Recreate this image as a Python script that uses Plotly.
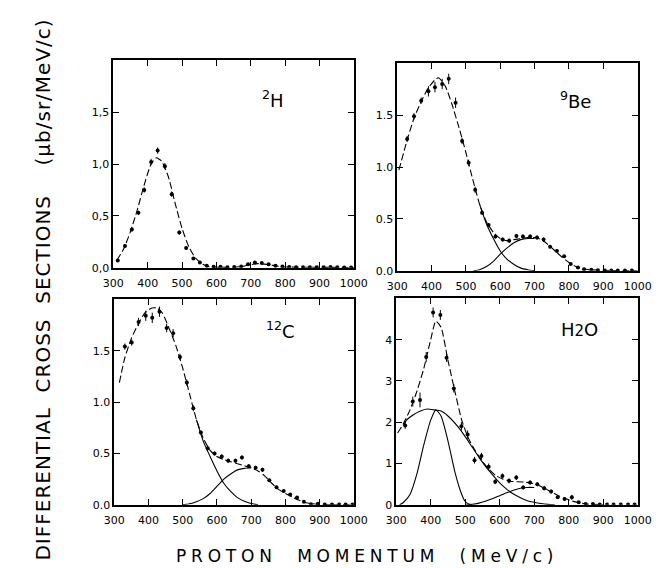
import plotly.graph_objects as go

# ---------------- data: 2H ----------------
h2_p = [313, 334, 354, 373, 390, 410, 429, 450, 470, 492, 512, 533, 552, 572, 592, 612, 632, 652, 672,
        692, 712, 732, 752, 772, 792, 812, 832, 852, 872, 892, 912, 932, 952, 972, 992]
h2_v = [0.07, 0.21, 0.37, 0.53, 0.75, 1.02, 1.13, 0.98, 0.71, 0.34, 0.19, 0.09, 0.05, 0.02, 0.01, 0.01,
        0.005, 0.008, 0.012, 0.035, 0.05, 0.045, 0.035, 0.02, 0.012, 0.008, 0.006, 0.005, 0.004, 0.005,
        0.004, 0.008, 0.004, 0.003, 0.003]
h2_e = [0.01, 0.015, 0.02, 0.02, 0.025, 0.03, 0.03, 0.03, 0.025, 0.02, 0.015, 0.01, 0.01, 0.008, 0.005,
        0.005, 0.005, 0.005, 0.005, 0.008, 0.008, 0.008, 0.008, 0.005, 0.005, 0.005, 0.005, 0.005, 0.005,
        0.005, 0.005, 0.005, 0.005, 0.005, 0.005]
h2_fit_p = [310, 330, 350, 370, 390, 410, 425, 440, 460, 480, 500, 520, 540, 560, 580, 600, 650, 680,
            700, 720, 740, 760, 780, 800, 850, 1000]
h2_fit_v = [0.07, 0.18, 0.35, 0.56, 0.80, 1.00, 1.06, 1.03, 0.88, 0.62, 0.38, 0.20, 0.09, 0.035, 0.01,
            0.005, 0.005, 0.015, 0.03, 0.04, 0.035, 0.025, 0.015, 0.008, 0.005, 0.003]

# ---------------- data: 9Be ----------------
be_p = [329, 349, 370, 391, 410, 431, 450, 470, 489, 508, 527, 547, 566, 586, 607, 626, 647, 666, 687,
        707, 726, 745, 765, 786, 805, 826, 844, 865, 884, 904, 923, 942, 963, 983]
be_v = [1.27, 1.49, 1.64, 1.73, 1.77, 1.80, 1.85, 1.62, 1.25, 1.04, 0.78, 0.56, 0.44, 0.33, 0.30, 0.29,
        0.335, 0.33, 0.33, 0.32, 0.30, 0.23, 0.19, 0.14, 0.065, 0.03, 0.015, 0.01, 0.005, 0.003, 0.002,
        0.002, 0.002, 0.002]
be_e = [0.03, 0.03, 0.03, 0.05, 0.05, 0.05, 0.05, 0.05, 0.03, 0.03, 0.03, 0.02, 0.02, 0.02, 0.02, 0.02,
        0.02, 0.02, 0.02, 0.02, 0.02, 0.015, 0.015, 0.01, 0.01, 0.01, 0.005, 0.005, 0.005, 0.005, 0.005,
        0.005, 0.005, 0.005]
be_fit_p = [305, 330, 350, 370, 390, 410, 420, 440, 460, 480, 500, 520, 540, 560, 580, 600, 620, 640,
            660, 680, 700, 720, 740, 760, 780, 800, 820, 840, 860, 900, 1000]
be_fit_v = [0.97, 1.27, 1.48, 1.63, 1.76, 1.84, 1.86, 1.78, 1.60, 1.38, 1.14, 0.88, 0.64, 0.47, 0.37,
            0.31, 0.29, 0.30, 0.31, 0.32, 0.32, 0.30, 0.25, 0.19, 0.13, 0.08, 0.04, 0.02, 0.01, 0.003, 0.0]
be_c1_p = [540, 560, 580, 600, 620, 640, 660, 680, 700]
be_c1_v = [0.64, 0.45, 0.31, 0.19, 0.11, 0.06, 0.025, 0.01, 0.0]
be_c2_p = [522, 540, 560, 580, 600, 620, 640, 660, 680, 700]
be_c2_v = [0.0, 0.01, 0.04, 0.09, 0.16, 0.22, 0.27, 0.30, 0.31, 0.31]

# ---------------- data: 12C ----------------
c_p = [331, 351, 371, 392, 411, 432, 453, 472, 492, 512, 531, 553, 573, 593, 614, 633, 654, 673, 693,
       713, 733, 753, 774, 795, 814, 834, 854, 875, 895, 915, 936, 957, 976, 996]
c_v = [1.54, 1.58, 1.78, 1.84, 1.82, 1.88, 1.72, 1.67, 1.44, 1.19, 0.94, 0.705, 0.55, 0.50, 0.47, 0.43,
       0.43, 0.46, 0.375, 0.36, 0.34, 0.24, 0.17, 0.135, 0.10, 0.07, 0.03, 0.005, 0.01, 0.002, 0.002,
       0.002, 0.002, 0.002]
c_e = [0.03, 0.03, 0.04, 0.05, 0.05, 0.05, 0.04, 0.04, 0.03, 0.03, 0.03, 0.02, 0.02, 0.02, 0.02, 0.02,
       0.02, 0.02, 0.02, 0.02, 0.02, 0.015, 0.015, 0.01, 0.01, 0.01, 0.01, 0.005, 0.01, 0.005, 0.005,
       0.005, 0.005, 0.005]
c_fit_p = [315, 330, 350, 370, 390, 410, 425, 440, 460, 480, 500, 520, 540, 560, 580, 600, 620, 640, 660,
           680, 700, 720, 740, 760, 780, 800, 820, 840, 860, 880, 900, 1000]
c_fit_v = [1.19, 1.42, 1.62, 1.76, 1.87, 1.915, 1.915, 1.87, 1.72, 1.55, 1.33, 1.08, 0.83, 0.65, 0.53,
           0.47, 0.44, 0.42, 0.40, 0.38, 0.36, 0.33, 0.28, 0.21, 0.15, 0.11, 0.075, 0.045, 0.02, 0.01,
           0.003, 0.0]
c_c1_p = [540, 560, 580, 600, 620, 640, 660, 680, 700, 720]
c_c1_v = [0.83, 0.62, 0.47, 0.33, 0.21, 0.13, 0.07, 0.035, 0.012, 0.0]
c_c2_p = [498, 520, 540, 560, 580, 600, 620, 640, 660, 680, 700]
c_c2_v = [0.0, 0.01, 0.03, 0.06, 0.11, 0.18, 0.25, 0.30, 0.34, 0.355, 0.36]

# ---------------- data: H2O ----------------
w_p = [326, 348, 369, 387, 407, 428, 446, 467, 489, 507, 527, 547, 568, 587, 608, 627, 648, 668, 688,
       709, 729, 749, 768, 788, 809, 829, 849, 870, 890, 911, 930, 951, 972, 991]
w_v = [1.92, 2.50, 2.54, 3.58, 4.66, 4.60, 3.56, 2.82, 1.90, 1.70, 1.08, 1.18, 0.92, 0.56, 0.70, 0.58,
       0.66, 0.42, 0.54, 0.50, 0.40, 0.32, 0.18, 0.14, 0.18, 0.06, 0.02, 0.02, 0.01, 0.01, 0.01, 0.01,
       0.01, 0.01]
w_e = [0.08, 0.12, 0.18, 0.12, 0.12, 0.12, 0.1, 0.1, 0.1, 0.1, 0.08, 0.08, 0.08, 0.06, 0.06, 0.06,
       0.06, 0.05, 0.05, 0.05, 0.05, 0.05, 0.04, 0.04, 0.06, 0.03, 0.02, 0.02, 0.02, 0.02, 0.02, 0.02,
       0.02, 0.02]
w_fit_p = [304, 320, 340, 360, 380, 400, 415, 430, 450, 470, 490, 510, 530, 550, 570, 590, 610, 630, 650,
           670, 690, 710, 730, 750, 770, 790, 810, 830, 850, 870, 900]
w_fit_v = [1.74, 1.95, 2.30, 2.75, 3.30, 4.00, 4.45, 4.30, 3.50, 2.75, 2.05, 1.60, 1.30, 1.05, 0.85, 0.70,
           0.62, 0.57, 0.56, 0.55, 0.53, 0.48, 0.40, 0.31, 0.22, 0.15, 0.09, 0.05, 0.02, 0.01, 0.0]
w_broad_p = [322, 330, 350, 370, 390, 410, 430, 450, 480, 500, 520, 540, 560, 580, 600, 620, 640, 660,
             680, 700, 720, 740, 760]
w_broad_v = [1.94, 2.05, 2.18, 2.27, 2.32, 2.30, 2.27, 2.15, 1.88, 1.65, 1.40, 1.15, 0.92, 0.72, 0.53,
             0.38, 0.26, 0.17, 0.10, 0.06, 0.03, 0.01, 0.0]
w_narrow_p = [310, 320, 340, 360, 380, 400, 415, 430, 450, 470, 490, 500, 510, 520]
w_narrow_v = [0.0, 0.05, 0.25, 0.75, 1.45, 2.05, 2.30, 2.15, 1.55, 0.80, 0.25, 0.08, 0.02, 0.0]
w_c3_p = [503, 520, 540, 560, 580, 600, 620, 640, 660, 680, 700]
w_c3_v = [0.0, 0.01, 0.04, 0.09, 0.15, 0.22, 0.29, 0.35, 0.40, 0.42, 0.42]

x_ticks = [300, 400, 500, 600, 700, 800, 900, 1000]
y_ticks_a = [0, 0.5, 1.0, 1.5]
y_ticks_a_text_comma = ["0,0", "0,5", "1,0", "1,5"]
y_ticks_a_text = ["0.0", "0.5", "1.0", "1.5"]
y_ticks_w = [0, 1, 2, 3, 4]

W, H = 662, 568
fig = go.Figure()

DASH = "7px,3px"


def pts(p, v, e, ax):
    fig.add_trace(go.Scatter(
        x=p, y=v, mode="markers", xaxis="x" + ax, yaxis="y" + ax,
        marker=dict(color="black", size=4),
        error_y=dict(type="data", array=e, visible=True, color="black", thickness=1, width=0),
        showlegend=False, hoverinfo="skip"))


def line(p, v, ax, dash="solid"):
    fig.add_trace(go.Scatter(
        x=p, y=v, mode="lines", xaxis="x" + ax, yaxis="y" + ax,
        line=dict(color="black", width=1.1, dash=dash, shape="spline", smoothing=0.6),
        showlegend=False, hoverinfo="skip"))


line(h2_fit_p, h2_fit_v, "", DASH)
pts(h2_p, h2_v, h2_e, "")

line(be_fit_p, be_fit_v, "2", DASH)
line(be_c1_p, be_c1_v, "2")
line(be_c2_p, be_c2_v, "2")
pts(be_p, be_v, be_e, "2")

line(c_fit_p, c_fit_v, "3", DASH)
line(c_c1_p, c_c1_v, "3")
line(c_c2_p, c_c2_v, "3")
pts(c_p, c_v, c_e, "3")

line(w_fit_p, w_fit_v, "4", DASH)
line(w_broad_p, w_broad_v, "4")
line(w_narrow_p, w_narrow_v, "4")
line(w_c3_p, w_c3_v, "4")
pts(w_p, w_v, w_e, "4")

font_ticks = dict(family="DejaVu Sans", size=11, color="black")


def xax(x0, x1, anchor):
    return dict(domain=[x0 / W, x1 / W], range=[300, 1000], anchor=anchor,
                tickvals=x_ticks, ticks="inside", ticklen=6, tickwidth=1.2,
                ticklabelstandoff=4,
                showline=True, linecolor="black", linewidth=1.5, mirror="ticks",
                showgrid=False, zeroline=False, tickfont=font_ticks, tickcolor="black")


def yax(y0, y1, anchor, rng, vals, text):
    return dict(domain=[1 - y1 / H, 1 - y0 / H], range=rng, anchor=anchor,
                tickvals=vals, ticktext=text, ticks="inside", ticklen=6, tickwidth=1.2,
                showline=True, linecolor="black", linewidth=1.5, mirror="ticks",
                showgrid=False, zeroline=False, tickfont=font_ticks, tickcolor="black")


layout = dict(
    width=W, height=H, margin=dict(l=0, r=0, t=0, b=0),
    paper_bgcolor="white", plot_bgcolor="white",
    xaxis=xax(98, 348, "y"),
    yaxis=yax(53, 263, "x", [0, 2.0], y_ticks_a, y_ticks_a_text_comma),
    xaxis2=xax(393, 643, "y2"),
    yaxis2=yax(56, 266, "x2", [0, 2.0], y_ticks_a, y_ticks_a_text),
    xaxis3=xax(99, 348, "y3"),
    yaxis3=yax(295, 503, "x3", [0, 2.0], y_ticks_a, y_ticks_a_text),
    xaxis4=xax(392, 643, "y4"),
    yaxis4=yax(294, 503, "x4", [0, 5.0], y_ticks_w, [str(t) for t in y_ticks_w]),
)
fig.update_layout(**layout)

lab_font = dict(family="DejaVu Sans", size=18, color="black")
anns = [
    dict(x=264 / W, y=1 - 92 / H, text="<sup>2</sup>H"),
    dict(x=578 / W, y=1 - 93 / H, text="<sup>9</sup>Be"),
    dict(x=272 / W, y=1 - 326 / H, text="<sup>12</sup>C"),
    dict(x=583 / W, y=1 - 326 / H, text="H<span style='font-size:15px'>2</span>O"),
]
for a in anns:
    fig.add_annotation(xref="paper", yref="paper", showarrow=False, font=lab_font,
                       xanchor="center", yanchor="middle", **a)

NB = "\u00a0"
y_title = ("DIFFERENTIAL" + NB * 2 + "CROSS" + NB * 2 + "SECTIONS" + NB * 4 + "(μb/sr/MeV/c)")
x_title = ("PROTON" + NB * 2 + "MOMENTUM" + NB * 2 + "(MeV/c)")
fig.add_annotation(xref="paper", yref="paper", x=25 / W, y=1 - 285 / H, showarrow=False,
                   text="<span style='letter-spacing:1px'>" + y_title + "</span>", textangle=-90,
                   font=dict(family="DejaVu Sans", size=20, color="black"),
                   xanchor="center", yanchor="middle")
fig.add_annotation(xref="paper", yref="paper", x=362 / W, y=1 - 555 / H, showarrow=False,
                   text="<span style='letter-spacing:4.8px'>" + x_title + "</span>",
                   font=dict(family="DejaVu Sans", size=17, color="black"),
                   xanchor="center", yanchor="middle")

fig.write_html("out.html")
